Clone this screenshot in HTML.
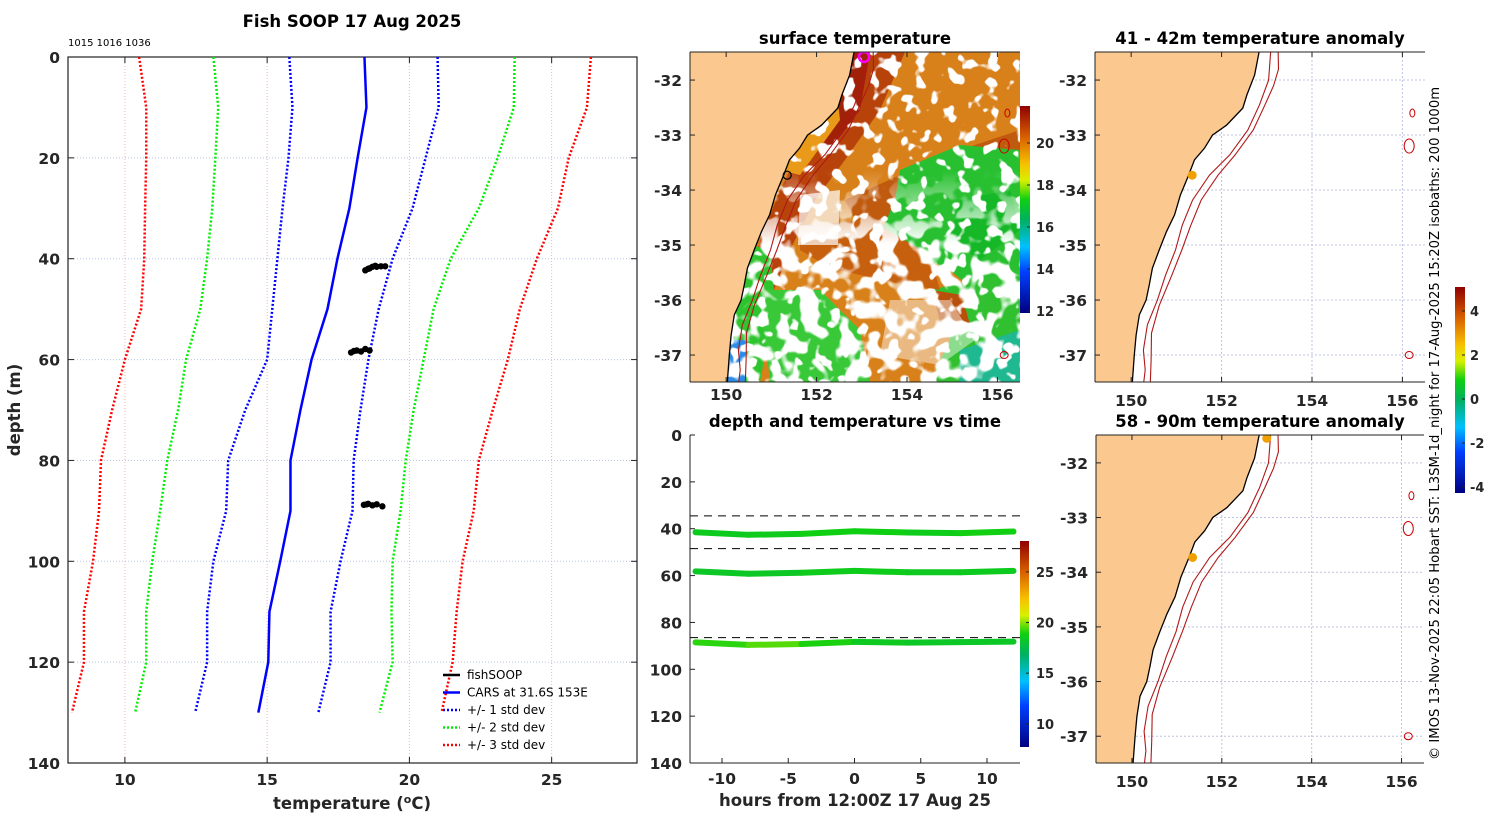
<!DOCTYPE html>
<html><head><meta charset="utf-8">
<style>
html,body{margin:0;padding:0;background:#fff;}
svg{display:block;font-family:"DejaVu Sans","Liberation Sans",sans-serif;}
.tk{font-size:15.5px;font-weight:bold;fill:#262626;}
.ttl{font-size:16.5px;font-weight:bold;fill:#000;}
</style></head>
<body>
<svg id="fig" width="1500" height="820" viewBox="0 0 1500 820" xmlns="http://www.w3.org/2000/svg">
<defs>
<linearGradient id="jet" x1="0" y1="1" x2="0" y2="0">
<stop offset="0" stop-color="#00007f"/><stop offset="0.2" stop-color="#0040ff"/><stop offset="0.32" stop-color="#00c0ff"/><stop offset="0.45" stop-color="#00b060"/><stop offset="0.55" stop-color="#10d010"/><stop offset="0.64" stop-color="#d8f000"/><stop offset="0.72" stop-color="#f8c000"/><stop offset="0.85" stop-color="#d86000"/><stop offset="1" stop-color="#900000"/>
</linearGradient>
<linearGradient id="fadeG" x1="0" y1="0" x2="0" y2="1">
<stop offset="0" stop-color="#fff" stop-opacity="0"/><stop offset="0.35" stop-color="#fff" stop-opacity="1"/><stop offset="1" stop-color="#fff" stop-opacity="1"/>
</linearGradient>
<mask id="fadeM"><rect x="690" y="170" width="330" height="212" fill="url(#fadeG)"/></mask>
<clipPath id="clipSST"><rect x="690" y="52" width="330" height="330"/></clipPath>
<clipPath id="clipA"><rect x="1095" y="52" width="330" height="330"/></clipPath>
<clipPath id="clipB"><rect x="1096" y="435" width="328" height="328"/></clipPath>
<filter id="speck" x="0" y="0" width="1" height="1">
<feTurbulence type="fractalNoise" baseFrequency="0.07" numOctaves="2" seed="4"/>
<feColorMatrix type="matrix" values="0 0 0 0 1  0 0 0 0 1  0 0 0 0 1  0 0 0 -16 6.8"/>
</filter>
<filter id="speck2" x="0" y="0" width="1" height="1">
<feTurbulence type="fractalNoise" baseFrequency="0.05" numOctaves="2" seed="9"/>
<feColorMatrix type="matrix" values="0 0 0 0 1  0 0 0 0 1  0 0 0 0 1  0 0 0 -12 6.0"/>
</filter>
</defs>
<g id="root"></g>
</svg>
<script>
// ---------- profile data (left panel) ----------
const depths = [0,10,20,30,40,50,60,70,80,90,100,110,120,130];
const carsMean = [18.42,18.49,18.18,17.89,17.47,17.12,16.56,16.17,15.82,15.82,15.46,15.08,15.04,14.69];
const minus1 = [15.78,15.89,15.75,15.54,15.36,15.18,15.0,14.23,13.63,13.56,13.11,12.89,12.89,12.47];
const plus1 = [20.99,21.03,20.57,20.11,19.41,18.92,18.56,18.28,18.04,18.0,17.58,17.23,17.23,16.8];
const minus2 = [13.11,13.28,13.18,13.07,12.89,12.65,12.15,11.87,11.49,11.24,10.96,10.75,10.75,10.36];
const plus2 = [23.7,23.67,23.1,22.44,21.45,20.85,20.5,20.15,19.87,19.69,19.41,19.37,19.41,18.95];
const minus3 = [10.5,10.75,10.75,10.71,10.68,10.57,10.0,9.55,9.16,9.09,8.88,8.56,8.56,8.14];
const plus3 = [26.38,26.24,25.6,25.22,24.48,23.88,23.46,22.93,22.44,22.26,21.87,21.66,21.52,21.13];
const soopTemp = [18.45,18.55,18.6,18.7,18.8,18.85,19.0,19.15, 17.95,18.05,18.15,18.3,18.45,18.6, 18.4,18.5,18.55,18.7,18.85,19.05];
const soopDepth = [42.3,42.0,41.9,41.6,41.4,41.6,41.5,41.5, 58.6,58.3,58.2,58.4,57.9,58.2, 88.8,88.7,88.6,88.9,88.7,89.1];
const tempTicks = [10,15,20,25];
const depthTicks = [0,20,40,60,80,100,120,140];
// ---------- time series (middle bottom) ----------
const hours = [-12,-8,-4,0,4,8,12];
const trace1Depth = [41.5,42.6,42.2,41.1,41.6,41.9,41.2];
const trace2Depth = [58.2,59.2,58.8,58.0,58.6,58.6,58.0];
const trace3Depth = [88.5,89.6,89.2,88.3,88.6,88.4,88.2];
const trace1Temp = [18.6,18.4,18.7,18.9,18.7,18.5,19.2];
const trace2Temp = [18.4,18.2,18.4,18.7,18.5,18.4,18.6];
const trace3Temp = [18.6,19.6,19.4,18.5,18.4,18.2,18.4];
const binEdges = [34.5,48.5,86.5];
const hourTicks = [-10,-5,0,5,10];
const tsDepthTicks = [0,20,40,60,80,100,120,140];
const tsCbarTicks = [10,15,20,25];
// ---------- maps ----------
const lonTicks = [150,152,154,156];
const latTicks = [-32,-33,-34,-35,-36,-37];
const sstCbarTicks = [12,14,16,18,20];
const anomCbarTicks = [-4,-2,0,2,4];
const coastLon = [152.84,152.73,152.56,152.47,152.11,151.80,151.62,151.40,151.27,151.09,150.96,150.78,150.62,150.47,150.40,150.33,150.18,150.11,150.07,150.02];
const coastLat = [-31.45,-31.91,-32.27,-32.51,-32.82,-33.0,-33.24,-33.45,-33.73,-34.09,-34.45,-34.76,-35.09,-35.42,-35.73,-36.0,-36.27,-36.64,-37.0,-37.55];
const iso200Lon = [153.09,153.04,152.84,152.58,152.18,151.73,151.36,151.13,150.98,150.76,150.58,150.36,150.27,150.31,150.27];
const iso200Lat = [-31.45,-32,-32.45,-32.91,-33.36,-33.73,-34.18,-34.64,-35.09,-35.55,-36.0,-36.45,-36.91,-37.27,-37.55];
const iso1000Lon = [153.25,153.26,153.15,152.96,152.7,152.3,151.92,151.55,151.32,151.12,150.9,150.62,150.45,150.44,150.42];
const iso1000Lat = [-31.45,-31.8,-32.1,-32.45,-32.91,-33.36,-33.73,-34.18,-34.64,-35.09,-35.55,-36.1,-36.6,-37.1,-37.55];
const shipLon = [153.05,151.35];
const shipLat = [-31.58,-33.73];

const NS='http://www.w3.org/2000/svg';
const root=document.getElementById('root');
function el(tag,attrs,parent){const e=document.createElementNS(NS,tag);for(const k in attrs)e.setAttribute(k,attrs[k]);(parent||root).appendChild(e);return e;}
function txt(x,y,s,cls,anchor,parent,extra){const t=el('text',Object.assign({x:x,y:y,class:cls,'text-anchor':anchor||'middle'},extra||{}),parent);t.textContent=s;return t;}

// ===== LEFT PROFILE PANEL =====
const px=t=>68+(t-8)*28.45, py=d=>57+d*5.043;
const gL=el('g',{});


tempTicks.forEach(t=>{const l=el('line',{x1:px(t),x2:px(t),y1:57,y2:763,stroke:'#e8b8b0','stroke-width':1,'stroke-dasharray':'1 2'},gL);

});
depthTicks.forEach(d=>{const l=el('line',{x1:68,x2:637,y1:py(d),y2:py(d),stroke:'#b8c4e8','stroke-width':1,'stroke-dasharray':'1 2'},gL);

});
el('rect',{x:68,y:57,width:569,height:706,fill:'none',stroke:'#222','stroke-width':1.2},gL);
depthTicks.forEach(d=>{el('line',{x1:68,x2:74,y1:py(d),y2:py(d),stroke:'#222'},gL);el('line',{x1:631,x2:637,y1:py(d),y2:py(d),stroke:'#222'},gL);
const t=txt(60,py(d)+6,String(d),'tk','end',gL);

});
tempTicks.forEach(v=>{el('line',{x1:px(v),x2:px(v),y1:763,y2:757,stroke:'#222'},gL);el('line',{x1:px(v),x2:px(v),y1:57,y2:63,stroke:'#222'},gL);
const t=txt(px(v),785,String(v),'tk','middle',gL);

});
function profile(arr,color,dash,w,name){const p=el('polyline',{points:arr.map((t,i)=>px(t)+','+py(depths[i])).join(' '),fill:'none',stroke:color,'stroke-width':w,'stroke-dasharray':dash},gL);

}
profile(minus3,'#f00','2 2',2.5,'minus-3-std-line');
profile(plus3,'#f00','2 2',2.5,'plus-3-std-line');
profile(minus2,'#0e0','2 2',2.5,'minus-2-std-line');
profile(plus2,'#0e0','2 2',2.5,'plus-2-std-line');
profile(minus1,'#00f','2 2',2.5,'minus-1-std-line');
profile(plus1,'#00f','2 2',2.5,'plus-1-std-line');
profile(carsMean,'#00f','none',2.5,'cars-mean-line');
soopTemp.forEach((t,i)=>{const c=el('circle',{cx:px(t),cy:py(soopDepth[i]),r:3.2,fill:'#000'},gL);

});
txt(352,27,'Fish SOOP 17 Aug 2025','ttl','middle',gL);
txt(68,46,'1015 1016 1036','tk','start',gL,{style:'font-size:10px;font-weight:normal;fill:#000'});
const xl=txt(352,809,'temperature (','tk','middle',gL,{style:'font-size:16.5px'});


xl.innerHTML='temperature (<tspan dy="-6" style="font-size:11px">o</tspan><tspan dy="6">C)</tspan>';
const yl=txt(20,410,'depth (m)','tk','middle',gL,{transform:'rotate(-90 20 410)',style:'font-size:16.5px'});


// legend
const lg=el('g',{},gL);


[['fishSOOP','#000','none'],['CARS at 31.6S 153E','#00f','none'],['+/- 1 std dev','#00f','2 2'],['+/- 2 std dev','#0e0','2 2'],['+/- 3 std dev','#f00','2 2']].forEach((e,i)=>{const y=675+i*17.5;
el('line',{x1:443,x2:460,y1:y,y2:y,stroke:e[1],'stroke-width':2.5,'stroke-dasharray':e[2]},lg);
const t=txt(467,y+4,e[0],'tk','start',lg,{style:'font-size:12px;font-weight:normal;fill:#000'});

});

// ===== MAP helpers =====
function mapAxes(x0,y0,w,h){const lx=l=>x0+(l-149.2)/7.3*w, ly=la=>y0+(-31.49-la)/6.0*h;return {lx,ly};}
function path(lons,lats,m){return lons.map((l,i)=>(i?'L':'M')+m.lx(l).toFixed(1)+','+m.ly(lats[i]).toFixed(1)).join('');}
function landPath(m,x0,y0,h){return 'M'+x0+','+(y0-5)+'L'+path(coastLon,coastLat,m).slice(1)+'L'+x0+','+(y0+h+5)+'Z';}
function grid(g,m,x0,y0,w,h){lonTicks.forEach(l=>{el('line',{x1:m.lx(l),x2:m.lx(l),y1:y0,y2:y0+h,stroke:'#c0c4e0','stroke-dasharray':'2 2'},g);});
latTicks.forEach(la=>{el('line',{x1:x0,x2:x0+w,y1:m.ly(la),y2:m.ly(la),stroke:'#c0c4e0','stroke-dasharray':'2 2'},g);});}
function ticks(g,m,x0,y0,w,h,labY){lonTicks.forEach(l=>{el('line',{x1:m.lx(l),x2:m.lx(l),y1:y0+h,y2:y0+h-5,stroke:'#222'},g);el('line',{x1:m.lx(l),x2:m.lx(l),y1:y0,y2:y0+5,stroke:'#222'},g);
const t=txt(m.lx(l),labY,String(l),'tk','middle',g);

});
latTicks.forEach(la=>{el('line',{x1:x0,x2:x0+5,y1:m.ly(la),y2:m.ly(la),stroke:'#222'},g);
const t=txt(x0-8,m.ly(la)+6,String(la),'tk','end',g);

});
el('line',{x1:x0,x2:x0,y1:y0,y2:y0+h,stroke:'#222'},g);el('line',{x1:x0,x2:x0+w,y1:y0,y2:y0,stroke:'#222'},g);el('line',{x1:x0,x2:x0+w,y1:y0+h,y2:y0+h,stroke:'#222'},g);}
function seamounts(g,m){[[156.22,-32.6,2.5,4],[156.15,-33.2,5,7],[156.15,-37.0,4,3.5]].forEach(s=>{el('ellipse',{cx:m.lx(s[0]),cy:m.ly(s[1]),rx:s[2],ry:s[3],fill:'none',stroke:'#c00','stroke-width':1},g);});}
function isobaths(g,m){
const a=el('path',{d:path(iso200Lon,iso200Lat,m),fill:'none',stroke:'#b01818','stroke-width':1.1},g);


const b=el('path',{d:path(iso1000Lon,iso1000Lat,m),fill:'none',stroke:'#b01818','stroke-width':1.1},g);

}

// ===== SST MAP =====
const mS=mapAxes(690,52,330,330);
const gS=el('g',{});


const gSc=el('g',{'clip-path':'url(#clipSST)'},gS);
el('rect',{x:690,y:52,width:330,height:330,fill:'#d8801a'},gSc);
el('path',{d:'M840,52 L905,52 L880,110 L845,160 L815,200 L790,250 L770,300 L752,330 L748,290 L760,240 L780,190 L805,140 L830,95Z',fill:'#b8430a'},gSc);
el('path',{d:'M840,52 L870,52 L860,110 L830,150 L815,135Z',fill:'#a02008'},gSc);
el('path',{d:'M845,200 L900,175 L960,150 L1020,130 L1020,165 L960,185 L900,215 L860,230Z',fill:'#c05a0e'},gSc);
el('path',{d:'M800,110 L835,75 L840,120 L800,175 L780,170Z',fill:'#e89a18'},gSc);
el('path',{d:'M900,170 L960,145 L1020,150 L1020,290 L985,300 L950,270 L905,250 L880,235 L895,200Z',fill:'#28c030'},gSc);
el('path',{d:'M960,200 L1010,190 L1020,230 L980,260 L950,240Z',fill:'#16b828'},gSc);
el('path',{d:'M930,290 L1020,270 L1020,382 L930,382 L950,340Z',fill:'#30c030'},gSc);
el('path',{d:'M960,350 L1020,330 L1020,382 L960,382Z',fill:'#20b890'},gSc);
el('path',{d:'M730,240 L770,250 L775,300 L760,382 L722,382 L728,300Z',fill:'#2ec42e'},gSc);
el('path',{d:'M722,340 L745,340 L745,382 L720,382Z',fill:'#2a8ce8'},gSc);
el('path',{d:'M760,290 L820,290 L860,330 L870,382 L770,382Z',fill:'#38c838'},gSc);
el('path',{d:'M800,225 L870,220 L930,255 L940,290 L890,282 L830,268 L800,250Z',fill:'#c6600e'},gSc);
el('path',{d:'M932,290 L962,295 L970,325 L942,330Z',fill:'#b8500c'},gSc);
el('rect',{x:690,y:52,width:330,height:330,fill:'#fff',filter:'url(#speck)'},gSc);
const gm=el('g',{mask:'url(#fadeM)'},gSc);
el('rect',{x:690,y:170,width:330,height:212,fill:'#fff',filter:'url(#speck2)'},gm);
el('path',{d:'M800,195 L840,190 L838,245 L798,245Z',fill:'#fff',opacity:0.7},gSc);
el('path',{d:'M890,300 L950,300 L975,340 L940,365 L880,355Z',fill:'#fff',opacity:0.45},gSc);
el('path',{d:landPath(mS,680,52,330),fill:'#fbc990',stroke:'#000','stroke-width':1.3},gSc);
isobaths(gSc,mS);seamounts(gSc,mS);
el('circle',{cx:mS.lx(shipLon[0]),cy:mS.ly(shipLat[0]),r:5,fill:'none',stroke:'#f0f','stroke-width':2.5},gSc);
el('circle',{cx:mS.lx(shipLon[1]),cy:mS.ly(shipLat[1]),r:4,fill:'none',stroke:'#000','stroke-width':1.2},gSc);
ticks(gS,mS,690,52,330,330,400);
txt(855,44,'surface temperature','ttl','middle',gS);
el('rect',{x:1020,y:106,width:10,height:207,fill:'url(#jet)'},gS);
sstCbarTicks.forEach(v=>{const y=311-(v-12)*21;el('line',{x1:1027,x2:1030,y1:y,y2:y,stroke:'#222'},gS);
const t=txt(1036,y+5,String(v),'tk','start',gS,{style:'font-size:13px'});

});

// ===== TIME SERIES =====
const hx=h=>722+(h+10)*13.25, dy=d=>435+d*2.343;
const gT=el('g',{});


el('line',{x1:690,x2:690,y1:435,y2:763,stroke:'#222'},gT);
el('line',{x1:690,x2:1020,y1:763,y2:763,stroke:'#222'},gT);
tsDepthTicks.forEach(d=>{el('line',{x1:690,x2:695,y1:dy(d),y2:dy(d),stroke:'#222'},gT);
const t=txt(682,dy(d)+6,String(d),'tk','end',gT);

});
hourTicks.forEach(h=>{el('line',{x1:hx(h),x2:hx(h),y1:763,y2:758,stroke:'#222'},gT);
const t=txt(hx(h),784,String(h),'tk','middle',gT);

});
binEdges.forEach(d=>{const l=el('line',{x1:690,x2:1020,y1:dy(d),y2:dy(d),stroke:'#000','stroke-dasharray':'8 6'},gT);

});
function jet(t){const f=Math.max(0,Math.min(1,(t-7.7)/20.3));const st=[[0,0,0,127],[0.2,0,64,255],[0.32,0,192,255],[0.45,0,176,96],[0.55,16,208,16],[0.64,216,240,0],[0.72,248,192,0],[0.85,216,96,0],[1,144,0,0]];
for(let i=1;i<st.length;i++){if(f<=st[i][0]){const a=st[i-1],b=st[i],u=(f-a[0])/(b[0]-a[0]);return 'rgb('+[1,2,3].map(k=>Math.round(a[k]+(b[k]-a[k])*u)).join(',')+')';}}return 'rgb(144,0,0)';}
[[trace1Depth,trace1Temp],[trace2Depth,trace2Temp],[trace3Depth,trace3Temp]].forEach(tr=>{for(let i=0;i<hours.length-1;i++){const s=el('line',{x1:hx(hours[i]),y1:dy(tr[0][i]),x2:hx(hours[i+1]),y2:dy(tr[0][i+1]),stroke:jet((tr[1][i]+tr[1][i+1])/2),'stroke-width':6,'stroke-linecap':'round'},gT);

}});
txt(855,427,'depth and temperature vs time','ttl','middle',gT);
txt(855,806,'hours from 12:00Z 17 Aug 25','tk','middle',gT,{style:'font-size:16.5px'});
el('rect',{x:1020,y:541,width:9,height:206,fill:'url(#jet)'},gT);
tsCbarTicks.forEach(v=>{const y=541+(28.05-v)*10.13;el('line',{x1:1026,x2:1029,y1:y,y2:y,stroke:'#222'},gT);
const t=txt(1036,y+5,String(v),'tk','start',gT,{style:'font-size:13px'});

});

// ===== ANOMALY MAPS =====
function anomMap(x0,y0,w,h,clip,title,name,showTop){const m=mapAxes(x0,y0,w,h);const g=el('g',{});


const gc=el('g',{'clip-path':'url(#'+clip+')'},g);
grid(gc,m,x0,y0,w,h);
el('path',{d:landPath(m,x0-10,y0,h),fill:'#fbc990',stroke:'#000','stroke-width':1.3},gc);
isobaths(gc,m);seamounts(gc,m);
el('circle',{cx:m.lx(shipLon[1]),cy:m.ly(shipLat[1]),r:4.5,fill:'#f0a000'},gc);
if(showTop)el('circle',{cx:m.lx(shipLon[0]-0.05),cy:m.ly(shipLat[0]+0.03),r:4.5,fill:'#f0a000'},gc);
ticks(g,m,x0,y0,w,h,y0+h+24);
txt(x0+w/2,y0-8,title,'ttl','middle',g);}
anomMap(1095,52,330,330,'clipA','41 - 42m temperature anomaly','anomaly-map-41-42m',false);
anomMap(1096,435,328,328,'clipB','58 - 90m temperature anomaly','anomaly-map-58-90m',true);
const gC=el('g',{});


el('rect',{x:1455,y:287,width:10,height:206,fill:'url(#jet)'},gC);
anomCbarTicks.forEach(v=>{const y=399-v*22;el('line',{x1:1462,x2:1465,y1:y,y2:y,stroke:'#222'},gC);
const t=txt(1470,y+5,String(v),'tk','start',gC,{style:'font-size:13px'});

});
const cr=txt(1439,760,'© IMOS 13-Nov-2025 22:05 Hobart SST: L3SM-1d_night for 17-Aug-2025 15:20Z isobaths: 200  1000m','tk','start',root,{transform:'rotate(-90 1439 760)',style:'font-size:13.2px;font-weight:normal;fill:#000','xml:space':'preserve'});


</script>
</body></html>
